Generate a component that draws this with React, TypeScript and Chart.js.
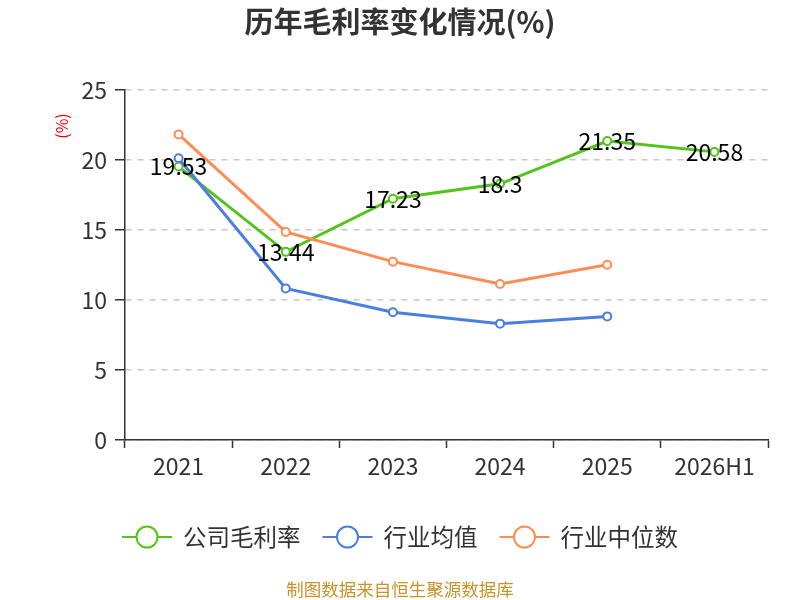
import { useEffect, useRef } from 'react';
import { Chart, registerables } from 'chart.js';
Chart.register(...registerables);

const years = ['2021', '2022', '2023', '2024', '2025', '2026H1'];
const gongsi = [19.53, 13.44, 17.23, 18.3, 21.35, 20.58];
const hangyeJun = [20.12, 10.83, 9.12, 8.31, 8.83, null];
const hangyeZhong = [21.83, 14.86, 12.74, 11.14, 12.52, null];
const yTicks = [0, 5, 10, 15, 20, 25];

const FONT = '"Noto Sans CJK SC", "Noto Sans", sans-serif';
const colors = ['#52c41a', '#4a7fe0', '#ff8c55'];
const names = ['公司毛利率', '行业均值', '行业中位数'];

const extras = {
  id: 'extras',
  afterDraw(chart: any) {
    const ctx = chart.ctx;
    ctx.save();
    // title
    ctx.fillStyle = '#333';
    ctx.font = `bold 29px ${FONT}`;
    ctx.textAlign = 'center';
    ctx.textBaseline = 'middle';
    ctx.fillText('历年毛利率变化情况(%)', 400, 22);

    // y axis title
    ctx.save();
    ctx.translate(62, 126);
    ctx.rotate(-Math.PI / 2);
    ctx.fillStyle = '#e00';
    ctx.font = `16px ${FONT}`;
    ctx.fillText('(%)', 0, 0);
    ctx.restore();

    // value labels for company series
    const meta = chart.getDatasetMeta(0);
    ctx.fillStyle = '#000';
    ctx.font = `23px ${FONT}`;
    meta.data.forEach((pt: any, i: number) => {
      ctx.fillText(String(gongsi[i]), pt.x, pt.y);
    });

    // legend
    ctx.font = `23.5px ${FONT}`;
    ctx.textAlign = 'left';
    const iconW = 50, gapIcon = 11, gapItem = 22;
    const widths = names.map(n => iconW + gapIcon + ctx.measureText(n).width);
    const total = widths.reduce((a, b) => a + b, 0) + gapItem * (names.length - 1);
    let x = 400 - total / 2;
    const y = 537;
    names.forEach((n, i) => {
      ctx.strokeStyle = colors[i];
      ctx.lineWidth = 2;
      ctx.beginPath();
      ctx.moveTo(x, y);
      ctx.lineTo(x + iconW, y);
      ctx.stroke();
      ctx.beginPath();
      ctx.arc(x + iconW / 2, y, 10.5, 0, Math.PI * 2);
      ctx.fillStyle = '#fff';
      ctx.fill();
      ctx.stroke();
      ctx.fillStyle = '#333';
      ctx.fillText(n, x + iconW + gapIcon, y);
      x += widths[i] + gapItem;
    });

    // source
    ctx.textAlign = 'center';
    ctx.fillStyle = '#c9932a';
    ctx.font = `17.5px ${FONT}`;
    ctx.fillText('制图数据来自恒生聚源数据库', 400, 589);
    ctx.restore();
  },
};

export default function App() {
  const ref = useRef<HTMLCanvasElement>(null);

  useEffect(() => {
    document.body.style.margin = '0';
    const series = [gongsi, hangyeJun, hangyeZhong];
    const chart = new Chart(ref.current!, {
      type: 'line',
      data: {
        labels: years,
        datasets: series.map((d, i) => ({
          label: names[i],
          data: d,
          borderColor: colors[i],
          backgroundColor: '#fff',
          borderWidth: 3,
          pointRadius: 4,
          pointBorderWidth: 2,
          pointBackgroundColor: '#fff',
          pointBorderColor: colors[i],
          tension: 0,
          order: 3 - i,
        })),
      },
      options: {
        responsive: false,
        animation: false,
        layout: { padding: { left: 0, right: 32, top: 90, bottom: 110 } },
        plugins: { legend: { display: false }, title: { display: false }, tooltip: { enabled: false } },
        scales: {
          x: {
            offset: true,
            afterFit: (s: any) => { s.height = 50; },
            grid: { offset: true, drawOnChartArea: false, drawTicks: true, tickLength: 8, tickColor: '#333', tickWidth: 1.5 },
            border: { color: '#333', width: 1.5 },
            ticks: { color: '#333', font: { size: 23, family: FONT }, padding: 4 },
          },
          y: {
            min: 0,
            max: 25,
            afterFit: (s: any) => { s.width = 125; },
            afterBuildTicks: (s: any) => { s.ticks = yTicks.map(v => ({ value: v })); },
            grid: { color: '#c8c8c8', lineWidth: 1.5, tickLength: 10, tickColor: '#333', tickBorderDash: [], tickWidth: 1.5 },
            border: { color: '#333', width: 1.5, dash: [6, 6] },
            ticks: { color: '#333', font: { size: 23, family: FONT }, padding: 8 },
          },
        },
      },
      plugins: [extras],
    });
    return () => chart.destroy();
  }, []);

  return <canvas ref={ref} width={800} height={600} style={{ display: 'block' }} />;
}
